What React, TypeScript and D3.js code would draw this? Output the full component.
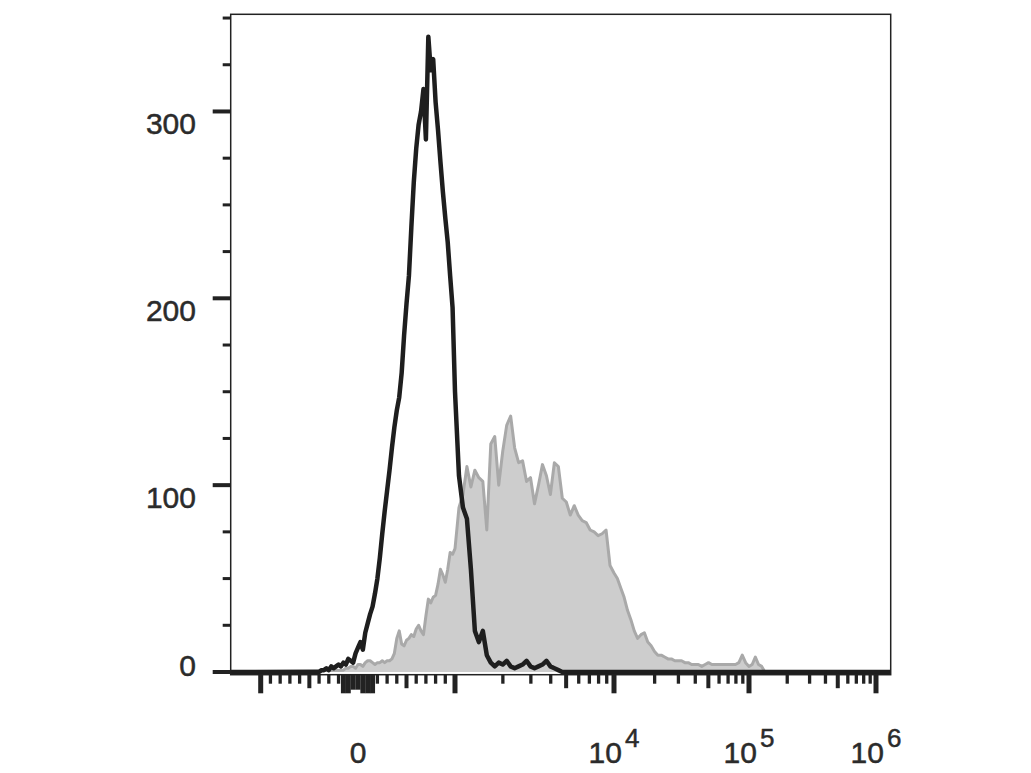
import React from "react";
import * as d3 from "d3";

// ---------- DATA ----------
// Histogram bins on a uniform grid of "display decades" (u): u = v/1000 for |v|<=1000, else 1+log10(v/1000)
const blackStart = -0.4;
const greyStart = -0.15;
const binStep = 0.025;

const blackCounts = [
  0, 1, 1, 2, 1, 3, 2, 3, 4, 3, 5, 4, 7, 6, 5, 10, 13, 16, 12, 21,
  26, 31, 35, 42, 50, 61, 74, 86, 97, 108, 120, 131, 140, 147, 160, 180, 197, 212, 238, 262,
  280, 293, 300, 312, 285, 340, 322, 328, 305, 290, 273, 257, 243, 230, 212, 195, 150,
  105, 88, 82, 55, 22, 16, 22, 9, 5, 3, 5, 4, 6, 3, 2, 3, 4, 6, 3, 2, 3, 4, 6, 3, 2, 1, 0, 0,
];

const greyCounts = [
  1, 2, 2, 3, 3, 2, 4, 4, 3, 5, 6, 6, 5, 4, 5, 5, 6, 5, 6, 6,
  7, 10, 18, 22, 15, 14, 17, 18, 20, 19, 23, 25, 22, 20, 30, 39, 37, 40, 41, 47,
  55, 52, 48, 55, 64, 63, 66,
  88, 95, 110, 99, 108, 104, 102, 76, 122, 126, 100, 118, 132, 137, 120, 112, 113, 102, 104, 90,
  100, 111, 105, 95, 112, 110, 93, 91, 84, 89, 84, 81, 80, 76, 75, 73, 74, 76, 57, 53,
  50, 45, 40, 33, 28, 22, 18, 20, 21, 16, 14, 11, 9, 9, 8, 7, 7, 6, 6, 6,
  5, 5, 4, 4, 4, 3, 4, 5, 4, 4, 4, 4, 4, 4, 4, 4, 5, 9, 5, 3,
  4, 8, 4, 3, 0,
];

const yTicksMajor = [0, 100, 200, 300];
const yTicksMinor = [25, 50, 75, 125, 150, 175, 225, 250, 275, 325, 350];

const xTicksMajor = [-1000, 0, 1000, 1e4, 1e5, 1e6];
const xTicksMedium = [-500, 500, 5000, 5e4, 5e5];
const xTicksNearZero = [-150, -100, 50, 100, 150];
const xTicksNearZeroShort = [-50];
const xTicksMinor = [
  -900, -800, -700, -600, -400, -300, -200,
  200, 300, 400, 600, 700, 800, 900,
  2000, 3000, 4000, 6000, 7000, 8000, 9000,
  2e4, 3e4, 4e4, 6e4, 7e4, 8e4, 9e4,
  2e5, 3e5, 4e5, 6e5, 7e5, 8e5, 9e5,
];
const xLabels = [
  { v: 0, base: "0", exp: "" },
  { v: 1e4, base: "10", exp: "4" },
  { v: 1e5, base: "10", exp: "5" },
  { v: 1e6, base: "10", exp: "6" },
];

// ---------- LAYOUT ----------
const W = 1031;
const H = 773;
const left = 230.7;
const right = 890.7;
const top = 14.3;
const bottom = 674.7;
const FONT = "'Liberation Sans', Arial, Helvetica, sans-serif";
const TEXT = "#2b2b2b";
const INK = "#222";

const toU = (v: number) =>
  Math.abs(v) <= 1000 ? v / 1000 : Math.sign(v) * (1 + Math.log10(Math.abs(v) / 1000));

const xScale = d3
  .scaleLinear()
  .domain([-1.31, -1, 0, 1, 2, 3, 4, 4.116])
  .range([left, 260.7, 358, 455, 614, 749, 876, right]);

const yScale = d3.scaleLinear().domain([0, 352]).range([672, top]);

type P = { u: number; c: number };
const toPoints = (start: number, counts: number[]): P[] => {
  const pts = counts.map((c, i) => ({ u: start + i * binStep, c }));
  const dom = xScale.domain();
  return [{ u: dom[0], c: 0 }, ...pts, { u: dom[dom.length - 1], c: 0 }];
};

export default function App() {
  const black = toPoints(blackStart, blackCounts);
  const grey = toPoints(greyStart, greyCounts);

  const line = d3
    .line<P>()
    .x((d) => xScale(d.u))
    .y((d) => yScale(d.c));
  const area = d3
    .area<P>()
    .x((d) => xScale(d.u))
    .y0(yScale(0))
    .y1((d) => yScale(d.c));

  const xTick = (v: number, len: number, w: number, key: string) => (
    <rect key={key} x={xScale(toU(v)) - w / 2} y={bottom} width={w} height={len} fill={INK} />
  );

  const textStyle = { stroke: TEXT, strokeWidth: 0.5 };

  return (
    <svg width={W} height={H} style={{ position: "absolute", left: 0, top: 0, background: "#fff" }}>
      <rect x={0} y={0} width={W} height={H} fill="#fff" />
      {/* grey filled histogram */}
      <path d={area(grey) || ""} fill="#cdcdcd" stroke="none" />
      <path d={line(grey) || ""} fill="none" stroke="#a9a9a9" strokeWidth={3} strokeLinejoin="round" />
      {/* black histogram */}
      <path d={line(black) || ""} fill="none" stroke="#1e1e1e" strokeWidth={4.5} strokeLinejoin="round" />

      {/* frame */}
      <rect x={left} y={top} width={right - left} height={bottom - top} fill="none" stroke={INK} strokeWidth={1.5} />

      {/* y axis ticks */}
      {yTicksMajor.map((v) => (
        <rect key={"ym" + v} x={left - 18} y={yScale(v) - 2} width={18} height={4} fill={INK} />
      ))}
      {yTicksMinor.map((v) => (
        <rect key={"yn" + v} x={left - 8} y={yScale(v) - 1.5} width={8} height={3} fill={INK} />
      ))}
      {yTicksMajor.map((v) => (
        <text
          key={"yl" + v}
          x={196}
          y={Math.min(yScale(v) + 23, 676)}
          textAnchor="end"
          fontFamily={FONT}
          fontSize={30}
          fill={TEXT}
          style={textStyle}
        >
          {v}
        </text>
      ))}

      {/* x axis ticks */}
      {xTicksMinor.map((v) => xTick(v, 9, 3.3, "xn" + v))}
      {xTicksMedium.map((v) => xTick(v, 13.5, 4, "xd" + v))}
      {xTicksNearZero.map((v) => xTick(v, 18.6, 5, "xz" + v))}
      {xTicksNearZeroShort.map((v) => xTick(v, 15, 5, "xs" + v))}
      {xTicksMajor.map((v) => xTick(v, v === 0 ? 15 : 18.6, 5, "xm" + v))}

      {xLabels.map((l) => {
        const cx = xScale(toU(l.v));
        return (
          <text
            key={"xl" + l.v}
            x={cx}
            y={763}
            textAnchor="middle"
            fontFamily={FONT}
            fontSize={30}
            fill={TEXT}
            style={textStyle}
          >
            {l.base}
            {l.exp ? (
              <tspan fontSize={26} dx={3} dy={-16}>
                {l.exp}
              </tspan>
            ) : null}
          </text>
        );
      })}
    </svg>
  );
}
